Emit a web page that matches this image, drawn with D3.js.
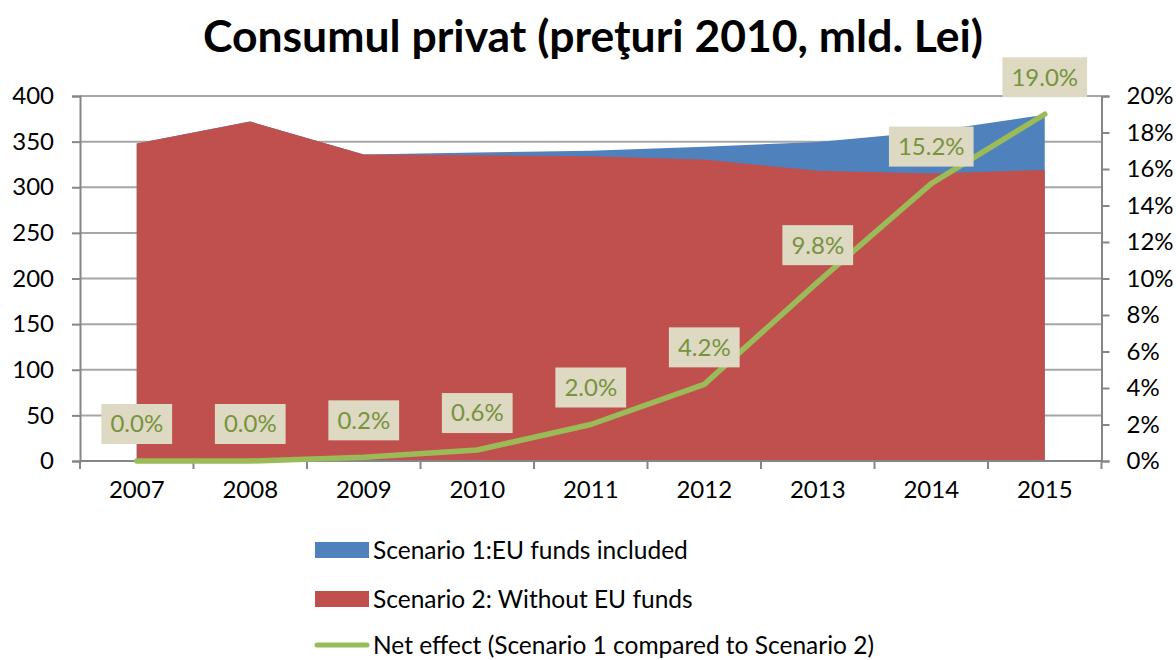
<!DOCTYPE html>
<html>
<head>
<meta charset="utf-8">
<script src="https://cdn.jsdelivr.net/npm/d3@7"></script>
<style>
  html, body { margin: 0; padding: 0; background: #fff; }
  svg { display: block; font-family: Lato, "Open Sans", sans-serif; }
</style>
</head>
<body>
<svg id="chart" width="1176" height="660"></svg>
<script>
const years = ["2007","2008","2009","2010","2011","2012","2013","2014","2015"];
const scenario1 = [348, 372, 336, 338, 340, 344.5, 349.5, 361, 379.5];
const scenario2 = [348, 372, 336, 335, 334, 330.5, 318, 315, 319];
const netEffect = [0.000, 0.000, 0.002, 0.006, 0.020, 0.042, 0.098, 0.152, 0.190];
const netLabels = ["0.0%","0.0%","0.2%","0.6%","2.0%","4.2%","9.8%","15.2%","19.0%"];
const leftTicks = [0, 50, 100, 150, 200, 250, 300, 350, 400];
const rightTicks = [0, 0.02, 0.04, 0.06, 0.08, 0.10, 0.12, 0.14, 0.16, 0.18, 0.20];
const seriesNames = ["Scenario 1:EU funds included", "Scenario 2: Without EU funds", "Net effect (Scenario 1 compared to Scenario 2)"];
const title = "Consumul privat (preţuri 2010, mld. Lei)";

const C = { blue: "#4F81BD", red: "#C0504D", green: "#9BBB59", labelText: "#77933C", labelFill: "#DDD9C3", axis: "#868686", grid: "#A6A6A6" };

const svg = d3.select("#chart");
const L = 80, R = 1101.5, T = 96, B = 461;

const x = d3.scaleBand().domain(years).range([L, R]).padding(0);
const cx = d => x(d) + x.bandwidth() / 2;
const y = d3.scaleLinear().domain([0, 400]).range([B, T]);
const y2 = d3.scaleLinear().domain([0, 0.20]).range([B, T]);

// Title
svg.append("text").attr("x", 593).attr("y", 52).attr("text-anchor", "middle")
  .attr("font-size", 44.5).attr("font-weight", "bold").attr("fill", "#000").text(title);

// Gridlines
svg.append("g").selectAll("line").data(leftTicks.slice(1)).join("line")
  .attr("x1", L).attr("x2", R).attr("y1", d => y(d)).attr("y2", d => y(d))
  .attr("stroke", C.grid).attr("stroke-width", 2);

// Areas
const area1 = d3.area().x((d, i) => cx(years[i])).y0(B).y1(d => y(d));
svg.append("path").datum(scenario1).attr("d", area1).attr("fill", C.blue);
svg.append("path").datum(scenario2).attr("d", area1).attr("fill", C.red);

// Left axis
const gl = svg.append("g").attr("transform", `translate(${L},0)`)
  .call(d3.axisLeft(y).tickValues(leftTicks).tickSize(8).tickPadding(18));
gl.select(".domain").attr("stroke", C.axis).attr("stroke-width", 2);
gl.selectAll(".tick line").attr("stroke", C.axis).attr("stroke-width", 2);
gl.selectAll(".tick text").attr("font-size", 24).attr("font-family", "Lato").attr("fill", "#000");

// Right axis
const gr = svg.append("g").attr("transform", `translate(${R},0)`)
  .call(d3.axisRight(y2).tickValues(rightTicks).tickFormat(d3.format(".0%")).tickSize(8).tickPadding(17));
gr.select(".domain").attr("stroke", C.axis).attr("stroke-width", 2);
gr.selectAll(".tick line").attr("stroke", C.axis).attr("stroke-width", 2);
gr.selectAll(".tick text").attr("font-size", 24).attr("font-family", "Lato").attr("fill", "#000");

// Bottom axis
const gb = svg.append("g").attr("transform", `translate(0,${B})`)
  .call(d3.axisBottom(x).tickSize(0).tickPadding(20));
gb.select(".domain").remove();
gb.selectAll(".tick text").attr("font-size", 24).attr("font-family", "Lato").attr("fill", "#000");
svg.append("line").attr("x1", L).attr("x2", R).attr("y1", B).attr("y2", B)
  .attr("stroke", C.axis).attr("stroke-width", 2);
const bounds = years.map(d => x(d)).concat([R]);
svg.append("g").selectAll("line").data(bounds).join("line")
  .attr("x1", d => d).attr("x2", d => d).attr("y1", B).attr("y2", B + 8)
  .attr("stroke", C.axis).attr("stroke-width", 2);

// Net effect line
const line = d3.line().x((d, i) => cx(years[i])).y(d => y2(d));
svg.append("path").datum(netEffect).attr("d", line).attr("fill", "none")
  .attr("stroke", C.green).attr("stroke-width", 5.5).attr("stroke-linecap", "round").attr("stroke-linejoin", "round");

// Data labels
const lg = svg.append("g").selectAll("g").data(netEffect).join("g")
  .attr("transform", (d, i) => `translate(${cx(years[i])},${y2(d) - 37})`);
lg.append("text").attr("text-anchor", "middle").attr("dy", "0.35em")
  .attr("font-size", 24).attr("fill", C.labelText).text((d, i) => netLabels[i]);
lg.each(function() {
  const g = d3.select(this);
  const w = g.select("text").node().getComputedTextLength();
  g.insert("rect", "text").attr("x", -w / 2 - 9).attr("y", -20).attr("width", w + 18).attr("height", 40)
    .attr("fill", C.labelFill);
});

// Legend
const leg = svg.append("g");
const rowsY = [550, 599, 645];
const colors = [C.blue, C.red, C.green];
seriesNames.forEach((name, i) => {
  const g = leg.append("g").attr("transform", `translate(0,${rowsY[i]})`);
  if (i < 2) {
    g.append("rect").attr("x", 315).attr("y", -8).attr("width", 54).attr("height", 16).attr("fill", colors[i]);
  } else {
    g.append("line").attr("x1", 317).attr("x2", 367).attr("y1", 0).attr("y2", 0)
      .attr("stroke", colors[i]).attr("stroke-width", 5).attr("stroke-linecap", "round");
  }
  g.append("text").attr("x", 373).attr("dy", "0.35em").attr("font-size", 24.5).attr("fill", "#000").text(name);
});
</script>
</body>
</html>
